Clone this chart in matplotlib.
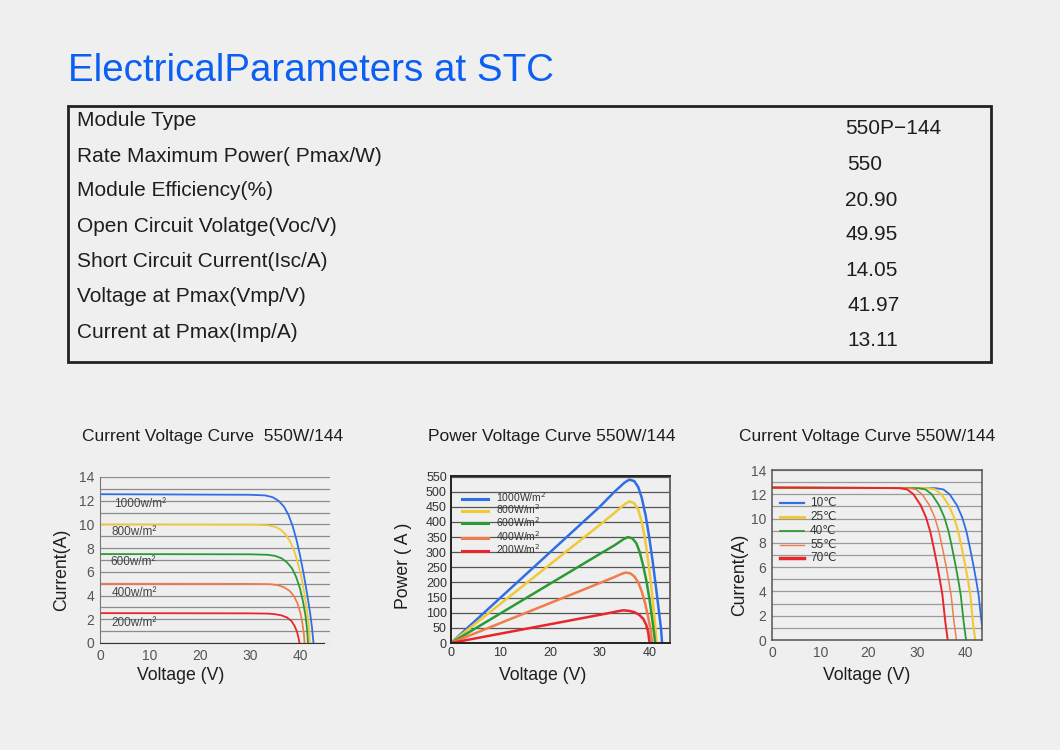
import matplotlib
matplotlib.use('agg')
import matplotlib.pyplot as plt
import matplotlib.patches as pa

plt.rcParams['font.family'] = ['Liberation Sans', 'DejaVu Sans']

# ---- table data ----
param_names = ['Module Type', 'Rate Maximum Power( Pmax/W)', 'Module Efficiency(%)',
               'Open Circuit Volatge(Voc/V)', 'Short Circuit Current(Isc/A)',
               'Voltage at Pmax(Vmp/V)', 'Current at Pmax(Imp/A)']
param_values = ['550P\u2212144', '550', '20.90', '49.95', '14.05', '41.97', '13.11']

# ---- chart 1: current vs voltage at several irradiances ----
irr_labels = ['1000w/m\u00b2', '800w/m\u00b2', '600w/m\u00b2', '400w/m\u00b2', '200w/m\u00b2']
iv_v_1000 = [0, 30, 33, 34.5, 35.7, 36.8, 37.7, 38.5, 39.3, 40.0, 40.7, 41.4, 42.0, 42.4, 42.7]
iv_i_1000 = [12.55, 12.5, 12.45, 12.3, 12.0, 11.5, 10.8, 9.9, 8.7, 7.4, 5.9, 4.2, 2.6, 1.3, 0]
iv_v_800 = [0, 30, 33.5, 35, 36.2, 37.2, 38.1, 38.9, 39.6, 40.3, 40.9, 41.4, 41.8, 42.0]
iv_i_800 = [10.0, 9.98, 9.93, 9.8, 9.55, 9.1, 8.5, 7.7, 6.7, 5.5, 4.1, 2.7, 1.3, 0]
iv_v_600 = [0, 30, 33.5, 35, 36.3, 37.4, 38.4, 39.2, 40.0, 40.6, 41.1, 41.4, 41.6]
iv_i_600 = [7.5, 7.48, 7.44, 7.35, 7.15, 6.8, 6.3, 5.6, 4.6, 3.5, 2.3, 1.2, 0]
iv_v_400 = [0, 30, 34, 35.5, 36.8, 37.9, 38.8, 39.5, 40.1, 40.5, 40.8, 40.9]
iv_i_400 = [5.0, 4.99, 4.96, 4.88, 4.7, 4.4, 3.95, 3.35, 2.5, 1.6, 0.7, 0]
iv_v_200 = [0, 30, 33.5, 35, 36.3, 37.4, 38.3, 38.9, 39.4, 39.7, 39.9]
iv_i_200 = [2.52, 2.5, 2.48, 2.43, 2.33, 2.15, 1.85, 1.45, 0.95, 0.45, 0]
irr_label_pos = [(2.9, 11.75), (2.3, 9.36), (2.0, 6.83), (2.3, 4.25), (2.3, 1.69)]

# ---- chart 2: power vs voltage ----
pv_labels = ['1000W/m$^2$', '800W/m$^2$', '600W/m$^2$', '400W/m$^2$', '200W/m$^2$']
pv_v_1000 = [0, 10, 20, 30, 33, 35, 36, 37, 37.8, 38.5, 39.3, 40.0, 40.7, 41.4, 42.0, 42.4, 42.6]
pv_p_1000 = [0, 150, 300, 450, 500, 530, 540, 535, 515, 480, 420, 350, 270, 180, 100, 45, 0]
pv_v_800 = [0, 10, 20, 30, 33, 35, 36, 37, 37.8, 38.5, 39.2, 39.8, 40.4, 40.9, 41.3, 41.5]
pv_p_800 = [0, 130, 260, 390, 430, 458, 468, 462, 440, 400, 340, 270, 190, 110, 45, 0]
pv_v_600 = [0, 10, 20, 30, 33, 34.8, 35.7, 36.6, 37.4, 38.1, 38.8, 39.5, 40.1, 40.6, 41.0, 41.2]
pv_p_600 = [0, 98, 196, 294, 323, 343, 350, 346, 330, 300, 255, 200, 140, 80, 30, 0]
pv_v_400 = [0, 10, 20, 30, 33, 34.5, 35.3, 36.2, 37, 37.8, 38.5, 39.2, 39.8, 40.3, 40.6]
pv_p_400 = [0, 66, 132, 198, 218, 229, 233, 230, 220, 200, 170, 130, 85, 40, 0]
pv_v_200 = [0, 10, 20, 30, 32.5, 34, 34.8, 36, 37, 38, 38.8, 39.4, 39.8, 40.0, 40.1]
pv_p_200 = [0, 31, 62, 93, 101, 106, 108, 106, 102, 93, 80, 60, 35, 10, 0]
pv_legend_y = [477, 436, 395, 347, 303]

# ---- chart 3: current vs voltage at several temperatures ----
temp_labels = ['10\u2103', '25\u2103', '40\u2103', '55\u2103', '70\u2103']
tc_i = [12.55, 12.52, 12.5, 12.4, 12.0, 11.1, 10.1, 8.9, 7.6, 6.2, 4.9, 3.7, 1.5, 0]
tc_v_10 = [0, 30, 34, 35.5, 36.8, 38.3, 39.4, 40.3, 41.0, 41.7, 42.3, 42.8, 43.4, 43.9]
tc_v_25 = [0, 28, 32.3, 33.8, 35.1, 36.6, 37.7, 38.6, 39.3, 40.0, 40.6, 41.1, 41.6, 42.1]
tc_v_40 = [0, 26, 30.3, 31.8, 33.1, 34.6, 35.7, 36.6, 37.3, 38.0, 38.6, 39.1, 39.7, 40.2]
tc_v_55 = [0, 24, 28.3, 29.8, 31.1, 32.6, 33.7, 34.6, 35.3, 36.0, 36.6, 37.1, 37.7, 38.2]
tc_v_70 = [0, 22, 26.5, 28.0, 29.3, 30.8, 31.9, 32.8, 33.5, 34.2, 34.8, 35.3, 35.9, 36.4]
temp_legend_y = [11.26, 10.1, 8.98, 7.83, 6.73]

colors = ['#2f6fe6', '#f0c93a', '#2c9a34', '#ef7d4c', '#e8262c']
txt = '#1e1e1e'
W, H = 1060., 750.

fig = plt.figure(figsize=(10.6, 7.5), dpi=100, facecolor='#efefef')

def fx(px):
    return px / W

def fy(py):
    return 1 - py / H

# title and table
fig.text(fx(68), fy(71), 'ElectricalParameters at STC', color='#0b5ff2', fontsize=27.7,
         ha='left', va='center')
fig.patches.append(pa.Rectangle((fx(68), fy(362)), fx(991) - fx(68), fy(106) - fy(362),
                                transform=fig.transFigure, fill=False, ec='#222222', lw=2))
label_y = [121, 157, 191, 227, 262, 297, 332]
value_y = [129, 165, 200, 235, 270, 306, 341]
value_x = [845, 847, 845, 845, 845, 847, 847]
for name, yy in zip(param_names, label_y):
    fig.text(fx(77), fy(yy), name, fontsize=15, color=txt, ha='left', va='center')
for val, xx, yy in zip(param_values, value_x, value_y):
    fig.text(fx(xx), fy(yy), val, fontsize=15, color=txt, ha='left', va='center')

# ---- chart 1 ----
ax1 = fig.add_axes([fx(100), fy(643), fx(330) - fx(100), fy(477) - fy(643)])
ax1.set_facecolor('#efefef')
series1 = [(iv_v_1000, iv_i_1000), (iv_v_800, iv_i_800), (iv_v_600, iv_i_600),
           (iv_v_400, iv_i_400), (iv_v_200, iv_i_200)]
for (v, i), c in zip(series1, colors):
    ax1.plot(v, i, color=c, lw=1.3)
for lab, (x, y) in zip(irr_labels, irr_label_pos):
    ax1.text(x, y, lab, fontsize=8.5, color='#444444', ha='left', va='center')
ax1.set_xlim(0, 46)
ax1.set_ylim(0, 14)
ax1.set_xticks([0, 10, 20, 30, 40])
ax1.set_yticks(range(0, 15, 2))
ax1.set_yticks(range(0, 15), minor=True)
ax1.grid(True, which='both', axis='y', color='#8c8c8c', lw=0.9)
ax1.set_axisbelow(True)
ax1.spines['top'].set_visible(False)
ax1.spines['right'].set_visible(False)
ax1.spines['left'].set_color('#777777')
ax1.spines['bottom'].set_color('#333333')
ax1.spines['bottom'].set_bounds(0, 44.8)
ax1.tick_params(which='both', length=0, labelsize=10, labelcolor='#555555', pad=4)

# ---- chart 2 ----
ax2 = fig.add_axes([fx(451), fy(643), fx(670) - fx(451), fy(476) - fy(643)])
ax2.set_facecolor('#efefef')
series2 = [(pv_v_1000, pv_p_1000), (pv_v_800, pv_p_800), (pv_v_600, pv_p_600),
           (pv_v_400, pv_p_400), (pv_v_200, pv_p_200)]
for (v, p), c in zip(series2, colors):
    ax2.plot(v, p, color=c, lw=1.8)
for lab, y, c in zip(pv_labels, pv_legend_y, colors):
    ax2.plot([2.15, 7.5], [y, y], color=c, lw=2.2)
    ax2.text(9.0, y + 6, lab, fontsize=7.5, color='#333333', ha='left', va='center')
ax2.set_xlim(0, 44.2)
ax2.set_ylim(0, 552)
ax2.set_xticks([0, 10, 20, 30, 40])
ax2.set_yticks(range(0, 551, 50))
ax2.grid(True, axis='y', color='#555555', lw=0.9)
ax2.set_axisbelow(True)
for s in ax2.spines.values():
    s.set_color('#222222')
    s.set_linewidth(1.4)
ax2.spines['right'].set_color('#666666')
ax2.tick_params(length=0, labelsize=9, labelcolor='#333333', pad=3)

# ---- chart 3 ----
ax3 = fig.add_axes([fx(772), fy(640), fx(982) - fx(772), fy(470) - fy(640)])
ax3.set_facecolor('#efefef')
series3 = [tc_v_10, tc_v_25, tc_v_40, tc_v_55, tc_v_70]
widths3 = [1.3, 1.5, 1.3, 1.1, 1.4]
for v, c, lw in zip(series3, colors, widths3):
    ax3.plot(v, tc_i, color=c, lw=lw)
leg_w = [1.6, 2.2, 1.3, 1.0, 2.5]
for lab, y, c, lw in zip(temp_labels, temp_legend_y, colors, leg_w):
    ax3.plot([1.6, 6.6], [y, y], color=c, lw=lw)
    ax3.text(7.9, y, lab, fontsize=8.5, color='#333333', ha='left', va='center')
ax3.set_xlim(0, 43.5)
ax3.set_ylim(0, 14)
ax3.set_xticks([0, 10, 20, 30, 40])
ax3.set_yticks(range(0, 15, 2))
ax3.set_yticks(range(0, 15), minor=True)
ax3.grid(True, which='both', axis='y', color='#9a9a9a', lw=0.9)
ax3.set_axisbelow(True)
for s in ax3.spines.values():
    s.set_color('#555555')
    s.set_linewidth(1.1)
ax3.tick_params(which='both', length=0, labelsize=10, labelcolor='#555555', pad=4)

# chart titles and axis labels
fig.text(fx(82), fy(436), 'Current Voltage Curve  550W/144', fontsize=12.5, color=txt, ha='left', va='center')
fig.text(fx(428), fy(436), 'Power Voltage Curve 550W/144', fontsize=12.5, color=txt, ha='left', va='center')
fig.text(fx(739), fy(436), 'Current Voltage Curve 550W/144', fontsize=12.5, color=txt, ha='left', va='center')
fig.text(fx(62), fy(570), 'Current(A)', fontsize=12.7, color=txt, rotation=90, ha='center', va='center')
fig.text(fx(404), fy(566), 'Power ( A )', fontsize=12.7, color=txt, rotation=90, ha='center', va='center')
fig.text(fx(740), fy(575), 'Current(A)', fontsize=12.7, color=txt, rotation=90, ha='center', va='center')
fig.text(fx(181), fy(676), 'Voltage (V)', fontsize=12.7, color=txt, ha='center', va='center')
fig.text(fx(543), fy(676), 'Voltage (V)', fontsize=12.7, color=txt, ha='center', va='center')
fig.text(fx(867), fy(676), 'Voltage (V)', fontsize=12.7, color=txt, ha='center', va='center')

fig.savefig('out.png', dpi=100, facecolor=fig.get_facecolor())
